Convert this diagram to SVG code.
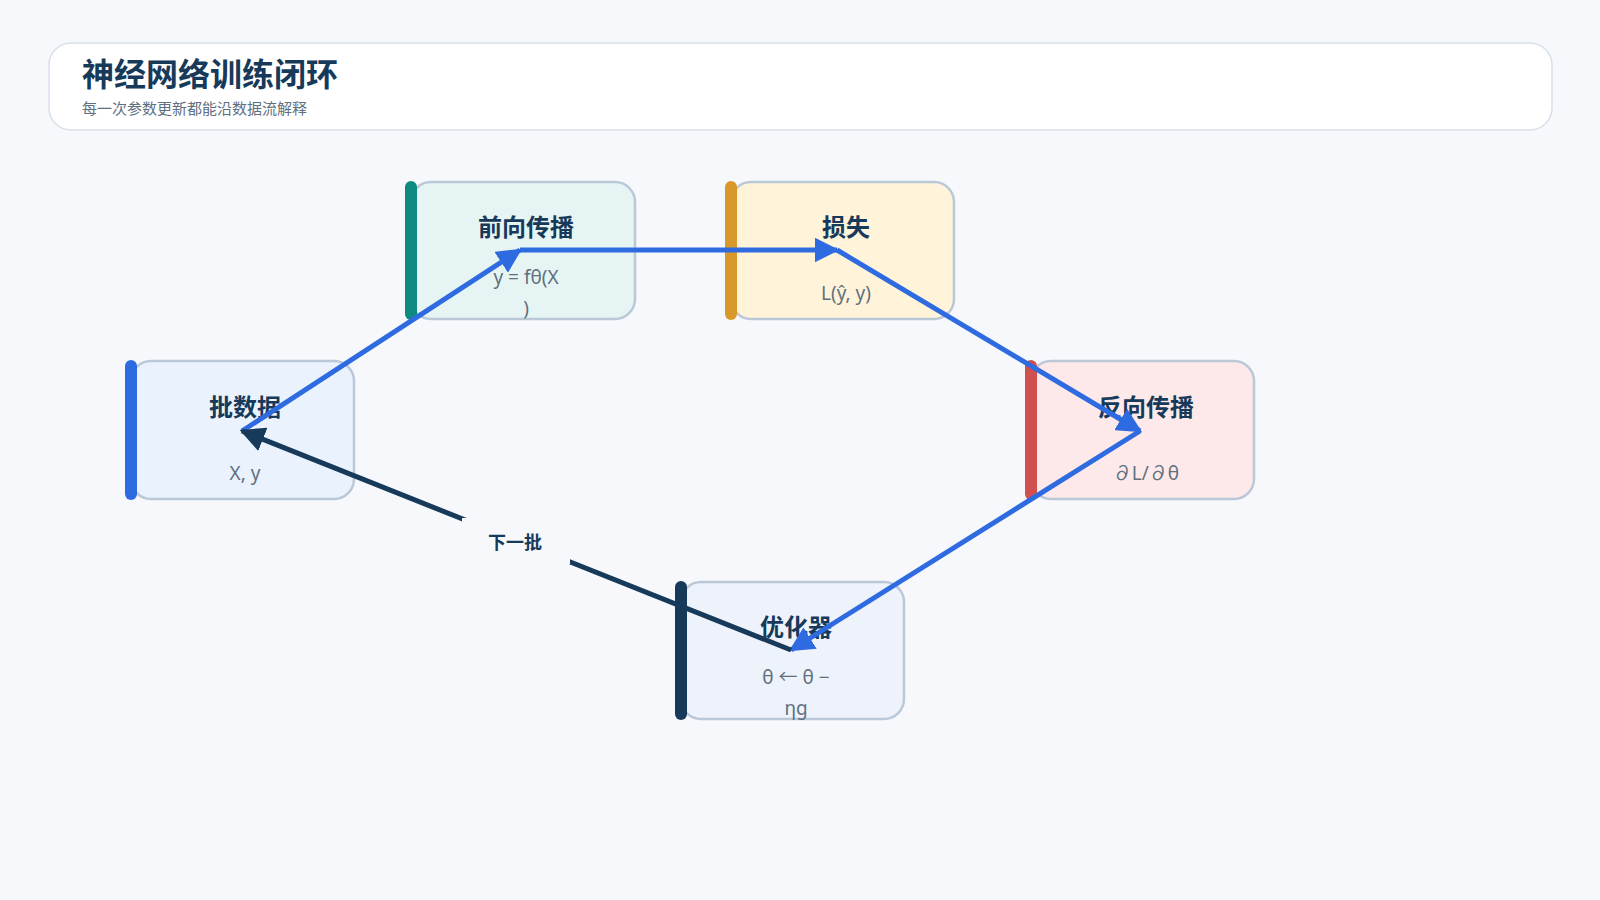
<svg xmlns="http://www.w3.org/2000/svg" width="1600" height="900" viewBox="0 0 1600 900">
<defs>
<style>
.box{stroke:#bac8d8;stroke-width:2.5}
.t{font-family:"Noto Sans CJK SC","Liberation Sans",sans-serif;font-weight:700;font-size:24px;fill:#173a5a;text-anchor:middle}
.s{font-family:"Noto Sans","Noto Sans CJK SC",sans-serif;font-size:19px;fill:#5f7080;text-anchor:middle}
.bar{stroke-width:12;stroke-linecap:round}
</style>
<marker id="ab" viewBox="0 0 10 10" refX="9" refY="5" markerWidth="5" markerHeight="5" orient="auto" markerUnits="strokeWidth"><path d="M0,0L10,5L0,10z" fill="#2f6be0"/></marker>
<marker id="ad" viewBox="0 0 10 10" refX="9" refY="5" markerWidth="5" markerHeight="5" orient="auto" markerUnits="strokeWidth"><path d="M0,0L10,5L0,10z" fill="#173a5a"/></marker>
</defs>
<rect width="1600" height="900" fill="#f6f8fc"/>
<g id="header">
<rect x="49" y="43" width="1503" height="87" rx="22" fill="#fff" stroke="#d8e0ea" stroke-width="1.5"/>
<text x="82" y="86" font-family="Noto Sans CJK SC,sans-serif" font-weight="700" font-size="32" fill="#173a5a">神经网络训练闭环</text>
<text x="82" y="114" font-family="Noto Sans CJK SC,sans-serif" font-size="15" fill="#5f7080">每一次参数更新都能沿数据流解释</text>
</g>
<g id="n-batch">
<rect class="box" x="131" y="361" width="223" height="138" rx="20" fill="#eaf2fe"/>
<line class="bar" x1="131" y1="366" x2="131" y2="494" stroke="#2f6be0"/>
<text class="t" x="245" y="416">批数据</text>
<text class="s" x="245" y="480">X, y</text>
</g>
<g id="n-forward">
<rect class="box" x="411" y="182" width="224" height="137" rx="20" fill="#e6f5f3"/>
<line class="bar" x1="411" y1="187" x2="411" y2="314" stroke="#0f8a80"/>
<text class="t" x="526" y="236">前向传播</text>
<text class="s" x="526" y="284">y = fθ(X</text>
<text class="s" x="526" y="315">)</text>
</g>
<g id="n-loss">
<rect class="box" x="731" y="182" width="223" height="137" rx="20" fill="#fff3d9"/>
<line class="bar" x1="731" y1="187" x2="731" y2="314" stroke="#d9982a"/>
<text class="t" x="846" y="236">损失</text>
<text class="s" x="846" y="300">L(ŷ, y)</text>
</g>
<g id="n-backprop">
<rect class="box" x="1031" y="361" width="223" height="138" rx="20" fill="#fde9e9"/>
<line class="bar" x1="1031" y1="366" x2="1031" y2="494" stroke="#cf504e"/>
<text class="t" x="1146" y="416">反向传播</text>
<text class="s" x="1146" y="480">∂L/∂θ</text>
</g>
<g id="n-optimizer">
<rect class="box" x="681" y="582" width="223" height="137" rx="20" fill="#eef2fa"/>
<line class="bar" x1="681" y1="587" x2="681" y2="714" stroke="#173a5a"/>
<text class="t" x="796" y="636">优化器</text>
<text class="s" x="796" y="684">θ ← θ −</text>
<text class="s" x="796" y="715">ηg</text>
</g>
<g id="connectors" fill="none" stroke-width="5">
<line x1="242" y1="431" x2="520" y2="250" stroke="#2f6be0" marker-end="url(#ab)"/>
<line x1="520" y1="250" x2="837" y2="250" stroke="#2f6be0" marker-end="url(#ab)"/>
<line x1="837" y1="250" x2="1140" y2="431" stroke="#2f6be0" marker-end="url(#ab)"/>
<line x1="1140" y1="431" x2="791" y2="650" stroke="#2f6be0" marker-end="url(#ab)"/>
<line x1="791" y1="650" x2="242" y2="431" stroke="#173a5a" marker-end="url(#ad)"/>
<rect x="462" y="518" width="108" height="46" fill="#f6f8fc" stroke="none"/>
<text x="515" y="549" font-family="Noto Sans CJK SC,sans-serif" font-weight="700" font-size="18" fill="#173a5a" stroke="none" text-anchor="middle">下一批</text>
</g>
</svg>
